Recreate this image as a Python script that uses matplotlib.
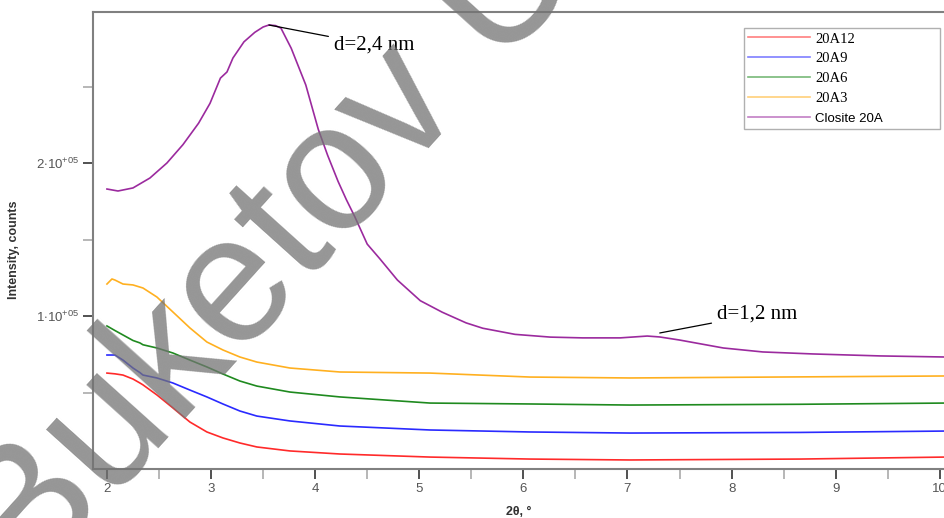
import numpy as np
import matplotlib
matplotlib.use("Agg")
import matplotlib.pyplot as plt
from matplotlib.ticker import MultipleLocator, FixedLocator, FixedFormatter

# values (2theta in degrees, intensity in counts)
x_closite = [2.00, 2.106, 2.25, 2.413, 2.576, 2.73, 2.88, 2.99, 3.09, 3.153, 3.21, 3.316,
             3.42, 3.50, 3.556, 3.62, 3.671, 3.77, 3.91, 4.03, 4.12, 4.22, 4.30, 4.38,
             4.50, 4.62, 4.79, 5.01, 5.22, 5.45, 5.61, 5.92, 6.26, 6.57, 6.93, 7.19,
             7.31, 7.50, 7.92, 8.30, 8.78, 9.43, 10.05]
y_closite = [183000, 181700, 183700, 190200, 200000, 212000, 226000, 239000, 255500, 259500,
             268600, 279200, 285400, 288900, 290200, 289800, 288200, 275000, 251000, 222000,
             205000, 188000, 176000, 165000, 147000, 137500, 123500, 110000, 102500, 95500,
             92000, 88000, 86200, 85700, 85700, 86900, 86300, 84300, 79100, 76500, 75200,
             73900, 73200]

x_low = [2.00, 2.048, 2.077, 2.154, 2.25, 2.346, 2.48, 2.634, 2.797, 2.96, 3.114, 3.277,
         3.44, 3.758, 4.238, 5.103, 6.063, 7.024, 10.05]
y_20a3 = [120900, 124200, 123500, 120900, 120300, 118300, 112400, 102600, 92200, 83000,
          77800, 73200, 69900, 66000, 63400, 62700, 60100, 59500, 60800]

x_mid = [2.00, 2.077, 2.154, 2.25, 2.317, 2.346, 2.48, 2.634, 2.797, 2.96, 3.114, 3.277,
         3.44, 3.758, 4.238, 5.103, 6.063, 7.024, 8.66, 10.05]
y_20a6 = [93500, 90500, 87600, 84000, 82400, 81200, 79100, 75800, 71200, 66700, 62100,
          57500, 54200, 50300, 47100, 43100, 42500, 41800, 42300, 43100]
y_20a9 = [74500, 74500, 71200, 66000, 63000, 61400, 59500, 56200, 51600, 47100, 42500,
          37900, 34600, 31400, 28100, 25500, 24200, 23500, 23900, 24800]
y_20a12 = [62700, 62200, 61400, 58800, 56200, 55000, 48400, 39900, 30700, 24200, 20300,
           17000, 14400, 11800, 9800, 7800, 6500, 5900, 6500, 7800]

labels = ["20A12", "20A9", "20A6", "20A3", "Closite 20A"]
colors = ["#ff2a2a", "#2a2aff", "#1f8a1f", "#ffb020", "#9b2a9e"]

plt.rcParams.update({
    "font.family": ["Liberation Sans", "DejaVu Sans"],
    "mathtext.fontset": "custom",
    "mathtext.rm": "Liberation Sans",
    "mathtext.it": "Liberation Sans",
})

fig = plt.figure(figsize=(9.45, 5.18), dpi=100)
ax = fig.add_axes([93 / 945, 49 / 518, 1 - 93 / 945, 457 / 518])

series = [(x_mid, y_20a12), (x_mid, y_20a9), (x_mid, y_20a6), (x_low, y_20a3), (x_closite, y_closite)]
for (xs, ys), lab, c in zip(series, labels, colors):
    ax.plot(xs, ys, color=c, lw=1.2, label=lab, solid_joinstyle="round")

ax.set_xlim(1.866, 10.05)
ax.set_ylim(0, 298700)

ax.xaxis.set_major_locator(MultipleLocator(1))
ax.xaxis.set_minor_locator(MultipleLocator(0.5))
ax.yaxis.set_major_locator(FixedLocator([100000, 200000]))
ax.yaxis.set_major_formatter(FixedFormatter([r"1$\cdot$10$^{+05}$", r"2$\cdot$10$^{+05}$"]))
ax.yaxis.set_minor_locator(FixedLocator([50000, 150000, 250000]))

ax.tick_params(which="major", length=7, width=1.2, color="#333333", labelcolor="#555555",
               labelsize=9.5, pad=3)
ax.tick_params(which="minor", length=7, width=1.2, color="#aaaaaa")

for s in ["left", "bottom", "top"]:
    ax.spines[s].set_color("#808080")
    ax.spines[s].set_linewidth(1.5)
ax.spines["right"].set_visible(False)

ax.set_xlabel("2θ, °", fontsize=9, fontweight="bold", color="#333333", labelpad=8)
ax.set_ylabel("Intensity, counts", fontsize=9, fontweight="bold", color="#333333")
ax.yaxis.set_label_coords(-0.086, 0.48)

leg = ax.legend(loc="upper left", bbox_to_anchor=(0.764, 0.753, 0.23, 0.212), mode="expand",
                borderaxespad=0, fancybox=False, framealpha=1, edgecolor="#b0b0b0",
                handlelength=4.2, handletextpad=0.4, labelspacing=0.45, fontsize=10.5,
                borderpad=0.3)
leg.get_frame().set_linewidth(1.0)
for t in leg.get_texts()[:4]:
    t.set_family("Liberation Serif")
leg.get_texts()[4].set_fontsize(9.5)
for h in leg.get_lines():
    h.set_alpha(0.6)

i_pk = int(np.argmax(y_closite))
ax.annotate("d=2,4 nm", xy=(x_closite[i_pk], y_closite[i_pk]), xytext=(4.18, 277000),
            fontsize=15, family="Liberation Serif", va="center", ha="left",
            arrowprops=dict(arrowstyle="-", color="black", lw=0.9, shrinkA=2, shrinkB=0))
ax.annotate("d=1,2 nm", xy=(7.31, 88900), xytext=(7.86, 101000),
            fontsize=15, family="Liberation Serif", va="center", ha="left",
            arrowprops=dict(arrowstyle="-", color="black", lw=0.9, shrinkA=2, shrinkB=0))

# watermark
fig.text(30 / 945, -74 / 518, "Buketov University", rotation=48, rotation_mode="anchor",
         ha="left", va="baseline", fontsize=130, color="#737373", alpha=0.75,
         family="Liberation Sans", zorder=10)

fig.savefig("out.png", dpi=100)
